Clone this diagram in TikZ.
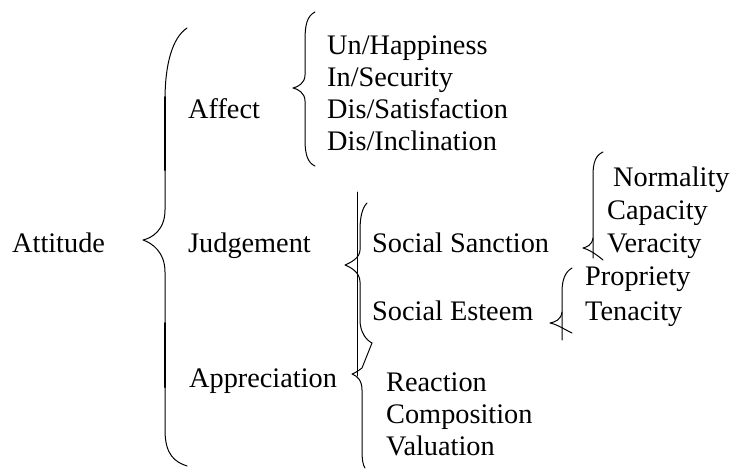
\documentclass[tikz,border=0pt]{standalone}
\usepackage{fontspec}
\setmainfont{Liberation Serif}
\begin{document}
\begin{tikzpicture}[x=1pt,y=-1pt,
  lbl/.style={anchor=base west,inner sep=0pt,font=\fontsize{28.3}{32}\selectfont},
  brc/.style={line width=1pt,line join=round,line cap=round},
  thk/.style={line width=2pt,line cap=round}]
\useasboundingbox (0,0) rectangle (735,469);
% labels
\node[lbl] (att) at (12,252) {Attitude};
\node[lbl] (aff) at (188,118) {Affect};
\node[lbl] (jud) at (188,252) {Judgement};
\node[lbl] (app) at (189,387) {Appreciation};
\node[lbl] (a1) at (327,54) {Un/Happiness};
\node[lbl] (a2) at (327,86) {In/Security};
\node[lbl] (a3) at (327,118) {Dis/Satisfaction};
\node[lbl] (a4) at (327,150) {Dis/Inclination};
\node[lbl] (ss) at (372,252) {Social Sanction};
\node[lbl] (se) at (372,320) {Social Esteem};
\node[lbl] (n1) at (613,186) {Normality};
\node[lbl] (n2) at (607,219) {Capacity};
\node[lbl] (n3) at (607,252) {Veracity};
\node[lbl] (p1) at (585,285) {Propriety};
\node[lbl] (p2) at (585,320) {Tenacity};
\node[lbl] (r1) at (386,391) {Reaction};
\node[lbl] (r2) at (386,423) {Composition};
\node[lbl] (r3) at (386,455) {Valuation};
% Attitude brace
\draw[brc] (187,28) .. controls (172,38) and (165,65) .. (165,100) -- (165,210)
  .. controls (165,230) and (152,238) .. (143,240)
  .. controls (152,243) and (165,252) .. (165,272) -- (165,430)
  .. controls (165,455) and (175,462) .. (187,466);
\draw[thk] (164.5,97) -- (164.5,170);
\draw[thk] (165,323) -- (165,387);
% Affect brace
\draw[brc] (315,12) .. controls (307,16) and (305,25) .. (305,40) -- (305,75)
  .. controls (305,83) and (298,87) .. (293,88)
  .. controls (298,89) and (305,93) .. (305,101) -- (305,140)
  .. controls (305,155) and (308,163) .. (315,166);
% Judgement brace
\draw[brc] (357,192) -- (357,376);
\draw[brc] (367,203) .. controls (362,208) and (360,218) .. (360,230) -- (360,250)
  .. controls (360,258) and (350,263) .. (345,265)
  .. controls (350,267) and (360,272) .. (360,282) -- (360,320)
  .. controls (360,332) and (366,340) .. (372,343);
% Appreciation brace
\draw[brc] (372,343) -- (362,368) .. controls (358,371) and (355,373) .. (352,374)
  .. controls (357,376) and (362,380) .. (362,390) -- (362,450)
  .. controls (362,460) and (363,465) .. (365,468);
% Social Sanction brace
\draw[brc] (603,152) .. controls (596,155) and (593,162) .. (593,175) -- (593,258);
\draw[brc] (593,238) .. controls (592,245) and (587,247) .. (583,248)
  .. controls (588,249) and (596,254) .. (603,260);
% Social Esteem brace
\draw[brc] (572,268) .. controls (565,272) and (562,280) .. (562,292) -- (562,340);
\draw[brc] (562,312) .. controls (561,320) and (555,322) .. (550,323)
  .. controls (556,324) and (564,329) .. (572,333);
\end{tikzpicture}
\end{document}
